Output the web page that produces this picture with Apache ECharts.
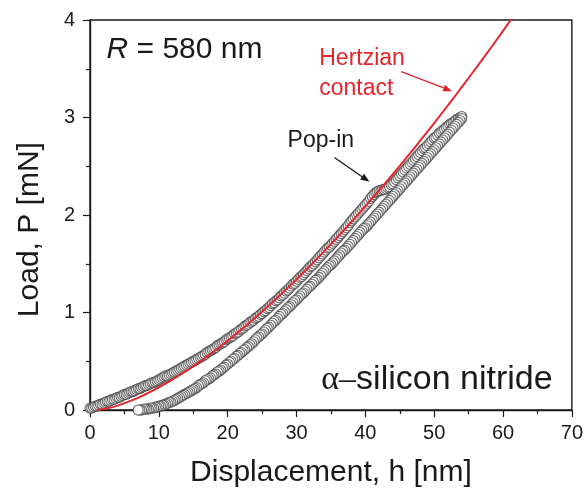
<!DOCTYPE html>
<html>
<head>
<meta charset="utf-8">
<script src="https://cdn.jsdelivr.net/npm/echarts@6/dist/echarts.min.js"></script>
<style>
  html, body { margin: 0; padding: 0; background: #fff; }
  #chart { width: 586px; height: 493px; }
</style>
</head>
<body>
<div id="chart"></div>
<script>
// Loading segment: displacement h [nm] and load P [mN]; the pop-in excursion sits near 42-44 nm
const loadH = [
  0, 0.25, 0.5, 0.75, 1, 1.25, 1.5, 1.75, 2, 2.25, 2.5, 2.75, 3, 3.25, 3.5, 3.75, 4, 4.25, 4.5, 4.75,
  5, 5.25, 5.5, 5.75, 6, 6.25, 6.5, 6.75, 7, 7.25, 7.5, 7.75, 8, 8.25, 8.5, 8.75, 9, 9.25, 9.5, 9.75,
  10, 10.25, 10.5, 10.75, 11, 11.25, 11.5, 11.75, 12, 12.25, 12.5, 12.75, 13, 13.25, 13.5, 13.75, 14, 14.25, 14.5, 14.75,
  15, 15.25, 15.5, 15.75, 16, 16.25, 16.5, 16.75, 17, 17.25, 17.5, 17.75, 18, 18.25, 18.5, 18.75, 19, 19.25, 19.5, 19.75,
  20, 20.25, 20.5, 20.75, 21, 21.25, 21.5, 21.75, 22, 22.25, 22.5, 22.75, 23, 23.25, 23.5, 23.75, 24, 24.25, 24.5, 24.75,
  25, 25.25, 25.5, 25.75, 26, 26.25, 26.5, 26.75, 27, 27.25, 27.5, 27.75, 28, 28.25, 28.5, 28.75, 29, 29.25, 29.5, 29.75,
  30, 30.25, 30.5, 30.75, 31, 31.25, 31.5, 31.75, 32, 32.25, 32.5, 32.75, 33, 33.25, 33.5, 33.75, 34, 34.25, 34.5, 34.75,
  35, 35.25, 35.5, 35.75, 36, 36.25, 36.5, 36.75, 37, 37.25, 37.5, 37.75, 38, 38.25, 38.5, 38.75, 39, 39.25, 39.5, 39.75,
  40, 40.25, 40.5, 40.75, 41, 41.25, 41.5, 41.75, 42, 42.25, 42.5, 42.75, 43, 43.25, 43.5, 43.75, 44, 44.25, 44.5, 44.75,
  45, 45.25, 45.5, 45.75, 46, 46.25, 46.5, 46.75, 47, 47.25, 47.5, 47.75, 48, 48.25, 48.5, 48.75, 49, 49.25, 49.5, 49.75,
  50, 50.25, 50.5, 50.75, 51, 51.25, 51.5, 51.75, 52, 52.25, 52.5, 52.75, 53, 53.25, 53.5, 53.75, 54
];
const loadP = [
  0.02, 0.02, 0.03, 0.04, 0.04, 0.05, 0.06, 0.06, 0.07, 0.08, 0.09, 0.09, 0.10, 0.11, 0.11, 0.12, 0.13, 0.13, 0.14, 0.15,
  0.16, 0.16, 0.17, 0.18, 0.19, 0.19, 0.20, 0.21, 0.22, 0.22, 0.23, 0.24, 0.25, 0.25, 0.26, 0.27, 0.28, 0.28, 0.29, 0.30,
  0.31, 0.32, 0.33, 0.34, 0.35, 0.35, 0.36, 0.37, 0.38, 0.39, 0.40, 0.41, 0.42, 0.43, 0.44, 0.45, 0.46, 0.47, 0.48, 0.49,
  0.50, 0.51, 0.52, 0.53, 0.54, 0.55, 0.56, 0.57, 0.59, 0.60, 0.61, 0.62, 0.63, 0.64, 0.66, 0.67, 0.68, 0.69, 0.70, 0.72,
  0.73, 0.74, 0.75, 0.76, 0.78, 0.79, 0.80, 0.82, 0.83, 0.84, 0.86, 0.87, 0.88, 0.90, 0.91, 0.92, 0.94, 0.95, 0.96, 0.98,
  0.99, 1.01, 1.02, 1.04, 1.05, 1.07, 1.09, 1.10, 1.12, 1.13, 1.15, 1.17, 1.18, 1.20, 1.22, 1.23, 1.25, 1.27, 1.29, 1.30,
  1.32, 1.34, 1.36, 1.37, 1.39, 1.41, 1.43, 1.45, 1.47, 1.48, 1.50, 1.52, 1.54, 1.56, 1.58, 1.60, 1.62, 1.64, 1.66, 1.67,
  1.69, 1.71, 1.73, 1.75, 1.77, 1.79, 1.81, 1.83, 1.85, 1.87, 1.89, 1.92, 1.94, 1.96, 1.98, 2.00, 2.02, 2.04, 2.06, 2.08,
  2.10, 2.12, 2.14, 2.17, 2.19, 2.21, 2.23, 2.24, 2.25, 2.25, 2.26, 2.26, 2.27, 2.28, 2.29, 2.31, 2.32, 2.34, 2.36, 2.38,
  2.40, 2.42, 2.44, 2.46, 2.48, 2.50, 2.52, 2.54, 2.56, 2.58, 2.60, 2.62, 2.64, 2.66, 2.68, 2.69, 2.71, 2.73, 2.75, 2.77,
  2.79, 2.80, 2.82, 2.84, 2.85, 2.87, 2.88, 2.90, 2.91, 2.93, 2.94, 2.95, 2.96, 2.98, 2.99, 3.00, 3.01
];

// Unloading segment, from peak load back to zero load
const unloadH = [
  54, 53.75, 53.5, 53.25, 53, 52.75, 52.5, 52.25, 52, 51.75, 51.5, 51.25, 51, 50.75, 50.5, 50.25, 50, 49.75, 49.5, 49.25,
  49, 48.75, 48.5, 48.25, 48, 47.75, 47.5, 47.25, 47, 46.75, 46.5, 46.25, 46, 45.75, 45.5, 45.25, 45, 44.75, 44.5, 44.25,
  44, 43.75, 43.5, 43.25, 43, 42.75, 42.5, 42.25, 42, 41.75, 41.5, 41.25, 41, 40.75, 40.5, 40.25, 40, 39.75, 39.5, 39.25,
  39, 38.75, 38.5, 38.25, 38, 37.75, 37.5, 37.25, 37, 36.75, 36.5, 36.25, 36, 35.75, 35.5, 35.25, 35, 34.75, 34.5, 34.25,
  34, 33.75, 33.5, 33.25, 33, 32.75, 32.5, 32.25, 32, 31.75, 31.5, 31.25, 31, 30.75, 30.5, 30.25, 30, 29.75, 29.5, 29.25,
  29, 28.75, 28.5, 28.25, 28, 27.75, 27.5, 27.25, 27, 26.75, 26.5, 26.25, 26, 25.75, 25.5, 25.25, 25, 24.75, 24.5, 24.25,
  24, 23.75, 23.5, 23.25, 23, 22.75, 22.5, 22.25, 22, 21.75, 21.5, 21.25, 21, 20.75, 20.5, 20.25, 20, 19.75, 19.5, 19.25,
  19, 18.75, 18.5, 18.25, 18, 17.75, 17.5, 17.25, 17, 16.75, 16.5, 16.25, 16, 15.75, 15.5, 15.25, 15, 14.75, 14.5, 14.25,
  14, 13.75, 13.5, 13.25, 13, 12.75, 12.5, 12.25, 12, 11.75, 11.5, 11.25, 11, 10.75, 10.5, 10.25, 10, 9.75, 9.5, 9.25,
  9, 8.75, 8.5, 8.25, 8, 7.75, 7.5, 7.25, 7
];
const unloadP = [
  2.99, 2.97, 2.95, 2.93, 2.91, 2.89, 2.87, 2.85, 2.83, 2.81, 2.79, 2.77, 2.75, 2.73, 2.71, 2.69, 2.67, 2.65, 2.63, 2.61,
  2.59, 2.57, 2.55, 2.53, 2.51, 2.49, 2.47, 2.45, 2.43, 2.41, 2.39, 2.37, 2.35, 2.33, 2.31, 2.29, 2.27, 2.25, 2.23, 2.21,
  2.19, 2.17, 2.15, 2.13, 2.11, 2.09, 2.07, 2.05, 2.03, 2.01, 1.99, 1.97, 1.95, 1.93, 1.91, 1.89, 1.87, 1.86, 1.84, 1.82,
  1.80, 1.78, 1.76, 1.74, 1.72, 1.70, 1.68, 1.66, 1.64, 1.63, 1.61, 1.59, 1.57, 1.55, 1.53, 1.51, 1.49, 1.48, 1.46, 1.44,
  1.42, 1.40, 1.38, 1.36, 1.34, 1.33, 1.31, 1.29, 1.27, 1.26, 1.24, 1.22, 1.20, 1.19, 1.17, 1.15, 1.13, 1.12, 1.10, 1.08,
  1.06, 1.05, 1.03, 1.01, 0.99, 0.98, 0.96, 0.94, 0.92, 0.91, 0.89, 0.87, 0.85, 0.84, 0.82, 0.80, 0.78, 0.77, 0.75, 0.74,
  0.72, 0.70, 0.68, 0.67, 0.65, 0.64, 0.62, 0.61, 0.59, 0.58, 0.56, 0.55, 0.53, 0.52, 0.50, 0.49, 0.47, 0.46, 0.44, 0.43,
  0.41, 0.40, 0.39, 0.37, 0.36, 0.35, 0.33, 0.32, 0.31, 0.30, 0.28, 0.27, 0.26, 0.25, 0.23, 0.22, 0.21, 0.20, 0.19, 0.18,
  0.17, 0.16, 0.15, 0.14, 0.13, 0.12, 0.11, 0.10, 0.09, 0.08, 0.08, 0.07, 0.06, 0.05, 0.05, 0.04, 0.04, 0.03, 0.03, 0.02,
  0.02, 0.02, 0.01, 0.01, 0.01, 0.01, 0.00, 0.00, 0.00
];

// Hertzian elastic contact curve
const hertzH = [1, 2, 4, 6, 8, 10, 12, 14, 16, 18, 20, 22, 24, 26, 28, 30, 32, 34, 36, 38, 40, 42, 44, 46, 48, 50, 52, 54, 56, 58, 60, 61.2];
const hertzP = [0, 0.009, 0.045, 0.096, 0.159, 0.232, 0.313, 0.402, 0.498, 0.601, 0.711, 0.826, 0.946, 1.073, 1.204, 1.340,
  1.481, 1.627, 1.777, 1.931, 2.090, 2.253, 2.419, 2.590, 2.765, 2.943, 3.125, 3.311, 3.500, 3.692, 3.888, 4.008];

const xTicks = [0, 10, 20, 30, 40, 50, 60, 70];
const yTicks = [0, 1, 2, 3, 4];

const SANS = '"Liberation Sans", Arial, Helvetica, sans-serif';
const SERIF = '"Liberation Serif", "Times New Roman", serif';
const RED = '#e3262b';
const INK = '#1a1a1a';

const zip = (a, b) => a.map((v, i) => [v, b[i]]);

const chart = echarts.init(document.getElementById('chart'), null, { renderer: 'canvas' });

const axisCommon = {
  axisLine: { show: true, onZero: false, lineStyle: { color: INK, width: 1.4 } },
  axisTick: { show: true, inside: false, length: 7, lineStyle: { color: INK, width: 1.2 } },
  minorTick: { show: true, splitNumber: 2, length: 4, lineStyle: { color: INK, width: 1.2 } },
  splitLine: { show: false },
  axisLabel: { color: INK, fontFamily: SANS, fontSize: 20 }
};

const markerStyle = { color: '#ffffff', borderColor: '#444444', borderWidth: 1.1 };

chart.setOption({
  animation: false,
  backgroundColor: '#fff',
  grid: { left: 90, right: 13, top: 20, bottom: 82, show: true, borderColor: INK, borderWidth: 1.4, backgroundColor: 'transparent' },
  xAxis: Object.assign({}, axisCommon, {
    type: 'value', min: xTicks[0], max: xTicks[xTicks.length - 1], interval: 10,
    name: 'Displacement, h [nm]', nameLocation: 'middle', nameGap: 48,
    nameTextStyle: { color: INK, fontFamily: SANS, fontSize: 30 },
    axisLabel: Object.assign({}, axisCommon.axisLabel, { margin: 13 })
  }),
  yAxis: Object.assign({}, axisCommon, {
    type: 'value', min: yTicks[0], max: yTicks[yTicks.length - 1], interval: 1,
    axisLabel: Object.assign({}, axisCommon.axisLabel, { margin: 15 })
  }),
  series: [
    {
      name: 'loading', type: 'scatter', data: zip(loadH, loadP),
      symbol: 'circle', symbolSize: 10, itemStyle: markerStyle, z: 2
    },
    {
      name: 'unloading', type: 'scatter', data: zip(unloadH, unloadP),
      symbol: 'circle', symbolSize: 10, itemStyle: markerStyle, z: 2
    },
    {
      name: 'Hertzian contact', type: 'line', data: zip(hertzH, hertzP),
      smooth: true, showSymbol: false, symbol: 'none',
      lineStyle: { color: RED, width: 2 }, z: 3
    }
  ]
});

// Annotations placed in data coordinates
function px(h, p) { return chart.convertToPixel({ gridIndex: 0 }, [h, p]); }

function arrow(from, to, color) {
  const a = px(from[0], from[1]);
  const b = px(to[0], to[1]);
  const ang = Math.atan2(b[1] - a[1], b[0] - a[0]);
  const L = 9, W = 3.5;
  const back = [b[0] - L * Math.cos(ang), b[1] - L * Math.sin(ang)];
  const nx = -Math.sin(ang), ny = Math.cos(ang);
  return [
    { type: 'line', shape: { x1: a[0], y1: a[1], x2: back[0], y2: back[1] }, style: { stroke: color, lineWidth: 1.4 }, z: 10 },
    { type: 'polygon', shape: { points: [[b[0], b[1]], [back[0] + nx * W, back[1] + ny * W], [back[0] - nx * W, back[1] - ny * W]] }, style: { fill: color }, z: 10 }
  ];
}

function label(h, p, text, opts) {
  const q = px(h, p);
  return {
    type: 'text', x: q[0], y: q[1], z: 10,
    style: Object.assign({ text: text, fill: INK, font: '23px ' + SANS, textAlign: 'left', textVerticalAlign: 'middle' }, opts || {})
  };
}

const yTitle = px(0, 1.85);
chart.setOption({
  graphic: [
    {
      type: 'text', x: 30, y: yTitle[1], rotation: Math.PI / 2, z: 10,
      style: { text: 'Load, P [mN]', fill: INK, font: '30px ' + SANS, textAlign: 'center', textVerticalAlign: 'middle' }
    },
    label(2.4, 3.70, '{i|R} = 580 nm', {
      font: '30px ' + SANS,
      rich: { i: { fontStyle: 'italic', fontSize: 30, fontFamily: SANS, fill: INK } }
    }),
    label(33.3, 3.60, 'Hertzian', { fill: RED }),
    label(33.3, 3.30, 'contact', { fill: RED }),
    label(28.7, 2.76, 'Pop-in'),
    label(33.6, 0.31, '{a|α–}silicon nitride', {
      font: '34px ' + SANS,
      rich: { a: { fontFamily: SERIF, fontSize: 34, fill: INK } }
    })
  ].concat(arrow([45.2, 3.47], [52.6, 3.27], RED))
   .concat(arrow([35.5, 2.59], [40.6, 2.34], INK))
});
</script>
</body>
</html>
